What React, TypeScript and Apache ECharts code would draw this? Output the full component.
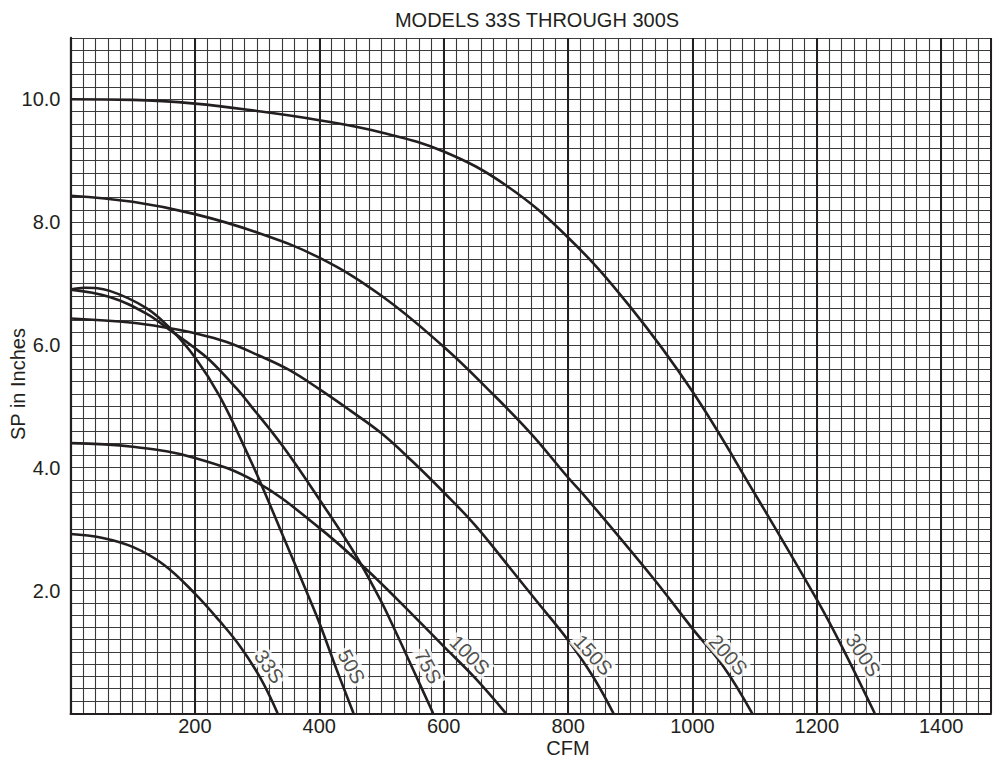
import React, { useEffect, useRef } from "react";
import * as echarts from "echarts";

// ---- data (CFM vs SP in inches) ----
const cfm33 = [0, 50, 100, 150, 200, 240, 272, 305, 333];
const sp33 = [2.92, 2.86, 2.71, 2.42, 1.95, 1.5, 1.1, 0.58, 0];

const cfm50 = [0, 23, 63, 122, 160, 200, 240, 289, 313, 342, 385, 401, 428, 455];
const sp50 = [6.9, 6.93, 6.88, 6.6, 6.27, 5.8, 5.16, 4.13, 3.58, 2.88, 1.85, 1.45, 0.71, 0];

const cfm75 = [0, 63, 122, 160, 197, 224, 267, 289, 342, 401, 460, 498, 514, 551, 583];
const sp75 = [6.9, 6.78, 6.51, 6.24, 5.97, 5.75, 5.29, 5.02, 4.34, 3.47, 2.55, 1.85, 1.52, 0.71, 0];

const cfm100 = [0, 100, 200, 300, 400, 470, 525, 600, 650, 700];
const sp100 = [4.4, 4.34, 4.16, 3.76, 3.02, 2.4, 1.86, 1.09, 0.58, 0];

const cfm150 = [0, 100, 160, 200, 250, 300, 350, 400, 450, 500, 550, 600, 650, 700, 750, 800, 840, 873];
const sp150 = [6.43, 6.36, 6.27, 6.19, 6.05, 5.84, 5.6, 5.28, 4.93, 4.56, 4.1, 3.6, 3.07, 2.45, 1.82, 1.19, 0.6, 0];

const cfm200 = [0, 100, 200, 300, 400, 500, 600, 675, 740, 800, 830, 937, 1000, 1050, 1096];
const sp200 = [8.43, 8.33, 8.13, 7.83, 7.42, 6.8, 5.97, 5.24, 4.56, 3.84, 3.5, 2.2, 1.38, 0.76, 0];

const cfm300 = [0, 100, 200, 300, 400, 500, 600, 700, 800, 900, 1000, 1100, 1200, 1237, 1293];
const sp300 = [10.0, 9.99, 9.93, 9.81, 9.66, 9.46, 9.15, 8.6, 7.75, 6.62, 5.24, 3.58, 1.85, 1.15, 0];

const modelNames = ["33S", "50S", "75S", "100S", "150S", "200S", "300S"];
const modelCfm = [cfm33, cfm50, cfm75, cfm100, cfm150, cfm200, cfm300];
const modelSp = [sp33, sp50, sp75, sp100, sp150, sp200, sp300];

// curve label anchors (CFM, SP) and text angle
const labelCfm = [319.5, 452, 575, 642, 840.5, 1057.5, 1274.6];
const labelSp = [0.76, 0.76, 0.76, 0.95, 0.95, 0.95, 0.95];
const labelAngle = [-55, -62, -62, -45, -48, -48, -57];

const titleText = "MODELS 33S THROUGH 300S";
const xName = "CFM";
const yName = "SP in Inches";

const X_MIN = 0;
const X_MAX = 1480;
const X_MINOR = 20;
const X_MAJOR = 200;
const X_LABEL_LAST = 1400;
const Y_MIN = 0;
const Y_MAX = 11;
const Y_MINOR = 0.2;
const Y_LABEL_STEP = 2;

const INK = "#231f20";
const FONT = '"Liberation Sans", Arial, Helvetica, sans-serif';

export default function App() {
  const ref = useRef<HTMLDivElement>(null);

  useEffect(() => {
    document.body.style.margin = "0";
    if (!ref.current) return;
    const chart = echarts.init(ref.current, undefined, { renderer: "svg" });

    const lineSeries = modelNames.map((name, i) => ({
      name,
      type: "line",
      xAxisIndex: 0,
      yAxisIndex: 0,
      data: modelCfm[i].map((c, j) => [c, modelSp[i][j]]),
      showSymbol: false,
      symbol: "none",
      smooth: 0.4,
      lineStyle: { color: INK, width: 2.6 },
      z: 3,
      silent: true,
    }));

    const labelSeries = {
      type: "scatter",
      xAxisIndex: 0,
      yAxisIndex: 0,
      symbolSize: 0,
      z: 5,
      silent: true,
      data: modelNames.map((name, i) => ({
        value: [labelCfm[i], labelSp[i]],
        name,
        label: {
          show: true,
          position: "inside",
          formatter: name,
          rotate: labelAngle[i],
          color: INK,
          fontFamily: FONT,
          fontSize: 20,
          backgroundColor: "#ffffff",
          padding: [0, 2, 0, 2],
        },
      })),
    };

    const option = {
      animation: false,
      backgroundColor: "#ffffff",
      grid: {
        left: 70.5,
        top: 37.9,
        width: 920.5,
        height: 675.4,
        containLabel: false,
        outerBoundsMode: "none",
      },
      xAxis: [
        {
          type: "value",
          min: X_MIN,
          max: X_MAX,
          interval: X_MINOR,
          axisLine: { show: false },
          axisTick: { show: false },
          axisLabel: { show: false },
          splitLine: { show: true, lineStyle: { color: "#383838", width: 1.1 } },
        },
        {
          type: "value",
          min: X_MIN,
          max: X_MAX,
          interval: X_MAJOR,
          position: "bottom",
          axisLine: { show: true, onZero: false, lineStyle: { color: INK, width: 2 } },
          axisTick: { show: false },
          axisLabel: {
            show: true,
            margin: 4,
            color: INK,
            fontFamily: FONT,
            fontSize: 20,
            lineHeight: 18,
            showMaxLabel: false,
            formatter: (v: number) =>
              v > 0 && v <= X_LABEL_LAST && v % X_MAJOR === 0 ? String(v) : "",
          },
          splitLine: { show: true, lineStyle: { color: INK, width: 2 } },
        },
      ],
      yAxis: [
        {
          type: "value",
          min: Y_MIN,
          max: Y_MAX,
          interval: Y_MINOR,
          axisLine: { show: true, onZero: false, lineStyle: { color: INK, width: 2.2 } },
          axisTick: { show: false },
          axisLabel: {
            show: true,
            margin: 10,
            color: INK,
            fontFamily: FONT,
            fontSize: 20,
            padding: [5, 0, 0, 0],
            formatter: (v: number) => {
              const r = v / Y_LABEL_STEP;
              if (v > 0 && Math.abs(r - Math.round(r)) < 1e-6) return v.toFixed(1);
              return "";
            },
          },
          splitLine: { show: true, lineStyle: { color: "#3c3c3c", width: 1.1 } },
        },
      ],
      graphic: [
        {
          type: "text",
          x: 537,
          y: 20,
          style: {
            text: titleText,
            font: `20px ${FONT}`,
            fill: INK,
            align: "center",
            verticalAlign: "middle",
            textAlign: "center",
            textVerticalAlign: "middle",
          },
        },
        {
          type: "text",
          x: 568,
          y: 748,
          style: {
            text: xName,
            font: `20px ${FONT}`,
            lineHeight: 16,
            fill: INK,
            align: "center",
            verticalAlign: "middle",
            textAlign: "center",
            textVerticalAlign: "middle",
          },
        },
        {
          type: "text",
          x: 18,
          y: 384,
          rotation: Math.PI / 2,
          style: {
            text: yName,
            font: `20px ${FONT}`,
            fill: INK,
            align: "center",
            verticalAlign: "middle",
            textAlign: "center",
            textVerticalAlign: "middle",
          },
        },
      ],
      series: [...lineSeries, labelSeries],
    };

    chart.setOption(option as any);
    return () => chart.dispose();
  }, []);

  return <div ref={ref} style={{ width: 995, height: 758 }} />;
}
